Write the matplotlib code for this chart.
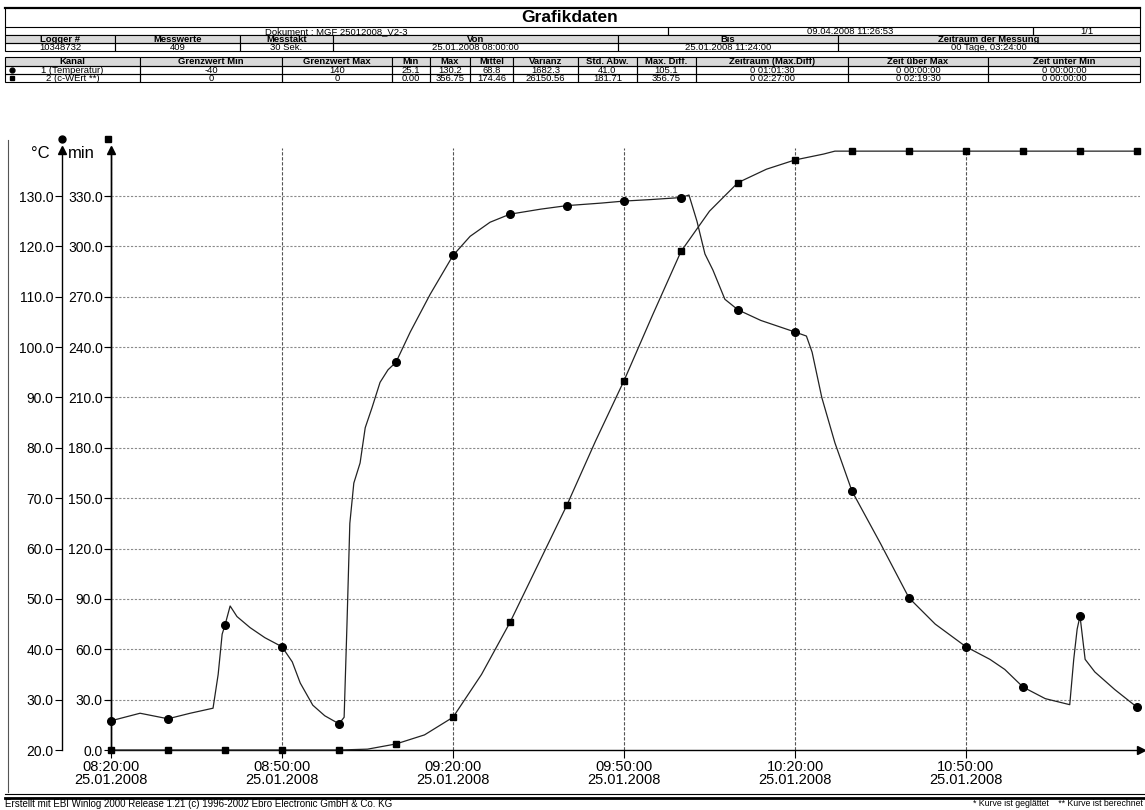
import matplotlib
matplotlib.use('Agg')
import matplotlib.pyplot as plt
from matplotlib.patches import Rectangle
from matplotlib.ticker import FormatStrFormatter

plt.rcParams['font.family'] = ['Liberation Sans', 'DejaVu Sans']

# ---------------- data ----------------
# time in minutes after 08:20:00 on 25.01.2008
temp_t = [0, 5.1, 10, 13.9, 17.9, 18.8, 19.5, 20, 20.9, 22.1, 24.4, 27, 30, 31.8, 33.2,
          35.4, 37.5, 40, 40.9, 41.4, 41.9, 42.6, 43.7, 44.6, 45.8, 47.2, 48.6, 50,
          52.5, 56, 60, 63, 66.5, 70, 75.4, 80, 86, 90, 94.7, 100, 101.4, 102.8, 104.2,
          105.6, 107.7, 110, 114, 120, 122, 123, 124.7, 127, 130, 135, 140, 144.6, 150,
          154.2, 156.8, 160, 163.9, 168.2, 168.9, 169.5, 170, 170.9, 172.6, 176.1, 180, 180.5]
temp_v = [25.8, 27.3, 26.2, 27.3, 28.3, 35, 43, 44.8, 48.6, 46.5, 44.3, 42.3, 40.5, 37.5, 33.3,
          28.9, 26.8, 25.2, 26.5, 45, 65, 73, 77, 84, 88, 93, 95.5, 97.0,
          103, 110.5, 118.2, 122, 124.8, 126.4, 127.4, 128.1, 128.6, 129.0, 129.3, 129.7, 130.2, 125, 118.5,
          115.3, 109.5, 107.4, 105.3, 103.0, 102.2, 99, 90, 81, 71.4, 61, 50.2, 45, 40.5,
          38, 36, 32.5, 30.2, 29.0, 38, 44, 46.6, 38, 35.5, 32, 28.5, 28]

f0_t = [0, 10, 20, 30, 40, 45, 50, 55, 60, 65, 70, 75, 80, 85, 90, 95, 100, 105, 110, 115,
        120, 125, 127, 130, 140, 150, 160, 170, 180, 180.5]
f0_v = [0, 0, 0, 0, 0, 0.5, 3.6, 9, 19.5, 45, 76, 111, 146, 184, 220, 259, 297, 321, 338, 346,
        351.5, 355, 356.75, 356.75, 356.75, 356.75, 356.75, 356.75, 356.75, 356.75]

x_ticks = [0, 30, 60, 90, 120, 150]
x_tick_labels = ['08:20:00\n25.01.2008', '08:50:00\n25.01.2008', '09:20:00\n25.01.2008',
                 '09:50:00\n25.01.2008', '10:20:00\n25.01.2008', '10:50:00\n25.01.2008']
temp_ticks = [20, 30, 40, 50, 60, 70, 80, 90, 100, 110, 120, 130]
f0_ticks = [0, 30, 60, 90, 120, 150, 180, 210, 240, 270, 300, 330]

doc_row = ['Dokument : MGF 25012008_V2-3', '09.04.2008 11:26:53', '1/1']
header1 = ['Logger #', 'Messwerte', 'Messtakt', 'Von', 'Bis', 'Zeitraum der Messung']
values1 = ['10348732', '409', '30 Sek.', '25.01.2008 08:00:00', '25.01.2008 11:24:00', '00 Tage, 03:24:00']
header2 = ['Kanal', 'Grenzwert Min', 'Grenzwert Max', 'Min', 'Max', 'Mittel', 'Varianz',
           'Std. Abw.', 'Max. Diff.', 'Zeitraum (Max.Diff)', 'Zeit über Max', 'Zeit unter Min']
row_temp = ['1 (Temperatur)', '-40', '140', '25.1', '130.2', '68.8', '1682.3', '41.0', '105.1',
            '0 01:01:30', '0 00:00:00', '0 00:00:00']
row_f0 = ['2 (c-WErt **)', '0', '0', '0.00', '356.75', '174.46', '26150.56', '181.71', '356.75',
          '0 02:27:00', '0 02:19:30', '0 00:00:00']

# ---------------- figure ----------------
W, H = 1145, 810
fig = plt.figure(figsize=(W / 100, H / 100), dpi=100)
ov = fig.add_axes([0, 0, 1, 1])
ov.set_xlim(0, W)
ov.set_ylim(H, 0)
ov.axis('off')

FS = 6.8
GRAY = '#d9d9d9'


def cell(x0, x1, y0, y1, text='', fill='none', bold=False, lw=0.8, ha='center'):
    ov.add_patch(Rectangle((x0, y0), x1 - x0, y1 - y0, facecolor=fill, edgecolor='black', lw=lw))
    if text:
        ov.text((x0 + x1) / 2 if ha == 'center' else x0 + 4, (y0 + y1) / 2 + 0.3, text,
                ha=ha, va='center', fontsize=FS, fontweight='bold' if bold else 'normal')


# title
ov.plot([5, 1140], [8, 8], color='black', lw=1.6)
ov.plot([5, 5], [8, 27], color='black', lw=0.8)
ov.plot([1140, 1140], [8, 27], color='black', lw=0.8)
ov.text(570, 17.5, 'Grafikdaten', ha='center', va='center', fontsize=12.5, fontweight='bold')

# document row
d = [5, 668, 1033, 1140]
for i, t in enumerate(doc_row):
    cell(d[i], d[i + 1], 27, 35, t)

t1 = [5, 115, 240, 333, 618, 838, 1140]
for i in range(6):
    cell(t1[i], t1[i + 1], 35, 43, header1[i], fill=GRAY, bold=True)
    cell(t1[i], t1[i + 1], 43, 51, values1[i])

t2 = [5, 140, 282, 392, 430, 470, 513, 578, 637, 696, 848, 988, 1140]
for i in range(12):
    cell(t2[i], t2[i + 1], 57, 66, header2[i], fill=GRAY, bold=True)
    cell(t2[i], t2[i + 1], 66, 74, row_temp[i])
    cell(t2[i], t2[i + 1], 74, 82, row_f0[i])
ov.plot([12], [70.3], marker='o', color='black', ms=3.5)
ov.plot([12], [78.3], marker='s', color='black', ms=3.2)

# frame around the chart + footer
ov.plot([8, 8], [140, 792], color='#555555', lw=0.8)
ov.plot([5, 1145], [794, 794], color='black', lw=0.8)
ov.plot([5, 1145], [797.5, 797.5], color='black', lw=2.0)
ov.text(5, 804, 'Erstellt mit EBI Winlog 2000 Release 1.21 (c) 1996-2002 Ebro Electronic GmbH & Co. KG',
        ha='left', va='center', fontsize=7.0)
ov.text(1143, 804, '* Kurve ist geglättet    ** Kurve ist berechnet', ha='right', va='center', fontsize=6.3)

# axis labels and channel symbols above the axes
ov.text(40, 154, '°C', ha='center', va='center', fontsize=12)
ov.text(81, 154, 'min', ha='center', va='center', fontsize=12)
ov.plot([62], [139], marker='o', color='black', ms=5)
ov.plot([108], [139], marker='s', color='black', ms=5)

# ---------------- main chart ----------------
x_left, x_right, y_bot, y_top = 111, 1140, 750, 148
px_per_min = 5.7
px_per_deg = 5.036
xmax = (x_right - x_left) / px_per_min
tmax = 20 + (y_bot - y_top) / px_per_deg

ax = fig.add_axes([x_left / W, (H - y_bot) / H, (x_right - x_left) / W, (y_bot - y_top) / H])
ax.patch.set_alpha(0)
ax.set_xlim(0, xmax)
ax.set_ylim(20, tmax)
for s in ['top', 'right']:
    ax.spines[s].set_visible(False)
ax.spines['left'].set_linewidth(1.0)
ax.spines['bottom'].set_linewidth(1.0)

ax.set_xticks(x_ticks)
ax.set_xticklabels(x_tick_labels, fontsize=10.5, linespacing=0.95)
ax.tick_params(axis='x', direction='out', length=6, width=0.8, pad=1)
ax.set_yticks(temp_ticks[1:])
ax.tick_params(axis='y', left=False, labelleft=False)
ax.grid(True, which='major', axis='y', color='#8a8a8a', lw=0.8, ls=(0, (2, 1.5)))
ax.grid(True, which='major', axis='x', color='#555555', lw=0.8, ls=(0, (3, 1.5)))

# min axis (at the chart's left edge)
sec_min = ax.secondary_yaxis(0, functions=(lambda T: 3 * (T - 20), lambda m: m / 3 + 20))
sec_min.set_yticks(f0_ticks)
sec_min.yaxis.set_major_formatter(FormatStrFormatter('%.1f'))
sec_min.tick_params(length=5, width=0.8, labelsize=10, pad=1)
sec_min.spines['left'].set_linewidth(1.0)

# °C axis (further left)
loc_c = (62 - x_left) / (x_right - x_left)
sec_c = ax.secondary_yaxis(loc_c, functions=(lambda T: T, lambda T: T))
sec_c.set_yticks(temp_ticks)
sec_c.yaxis.set_major_formatter(FormatStrFormatter('%.1f'))
sec_c.tick_params(length=5, width=0.8, labelsize=10, pad=1)
sec_c.spines['left'].set_linewidth(1.0)

# temperature (°C)
temp_marks = [i for i, t in enumerate(temp_t) if abs(t % 10) < 1e-9]
ax.plot(temp_t, temp_v, color='#222222', lw=0.9, marker='o', ms=5.5, mfc='black', mec='black',
        markevery=temp_marks, zorder=5, clip_on=False)

# c-value (min) on linked scale
ax2 = ax.twinx()
ax2.set_ylim(0, 3 * (tmax - 20))
ax2.axis('off')
f0_marks = [i for i, t in enumerate(f0_t) if abs(t % 10) < 1e-9]
ax2.plot(f0_t, f0_v, color='#222222', lw=0.9, marker='s', ms=5, mfc='black', mec='black',
         markevery=f0_marks, zorder=5, clip_on=False)

# arrow heads on axes
ov.plot([62], [150], marker='^', color='black', ms=6)
ov.plot([111], [150], marker='^', color='black', ms=6)
ov.plot([1141], [750], marker='>', color='black', ms=6)

fig.savefig('out.png', dpi=100)
